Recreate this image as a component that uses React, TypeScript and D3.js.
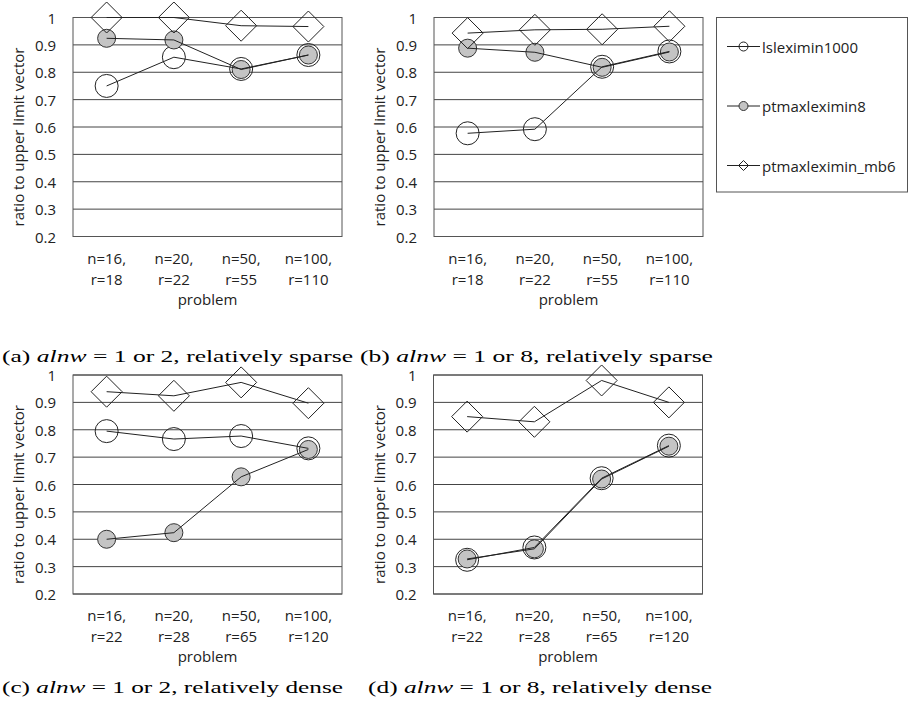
import React from "react";
import * as d3 from "d3";

const seriesNames = ["lsleximin1000", "ptmaxleximin8", "ptmaxleximin_mb6"];
const catsSparse = [["n=16,", "r=18"], ["n=20,", "r=22"], ["n=50,", "r=55"], ["n=100,", "r=110"]];
const catsDense = [["n=16,", "r=22"], ["n=20,", "r=28"], ["n=50,", "r=65"], ["n=100,", "r=120"]];
const yTicks = [0.2, 0.3, 0.4, 0.5, 0.6, 0.7, 0.8, 0.9, 1];
const yTickLabels = ["0.2", "0.3", "0.4", "0.5", "0.6", "0.7", "0.8", "0.9", "1"];

const aLs = [0.75, 0.855, 0.812, 0.863];
const aPt8 = [0.924, 0.918, 0.81, 0.863];
const aMb6 = [1.0, 1.0, 0.97, 0.967];
const bLs = [0.577, 0.592, 0.82, 0.876];
const bPt8 = [0.888, 0.873, 0.818, 0.874];
const bMb6 = [0.943, 0.955, 0.957, 0.968];
const cLs = [0.795, 0.766, 0.777, 0.732];
const cPt8 = [0.4, 0.424, 0.628, 0.728];
const cMb6 = [0.939, 0.924, 0.973, 0.897];
const dLs = [0.325, 0.37, 0.623, 0.742];
const dPt8 = [0.328, 0.365, 0.62, 0.74];
const dMb6 = [0.848, 0.829, 0.98, 0.9];

const captionA = ["(a) ", "alnw", " = 1 or 2, relatively sparse"];
const captionB = ["(b) ", "alnw", " = 1 or 8, relatively sparse"];
const captionC = ["(c) ", "alnw", " = 1 or 2, relatively dense"];
const captionD = ["(d) ", "alnw", " = 1 or 8, relatively dense"];

const FONT = "'Open Sans', sans-serif";
const GRAY = "#c4c4c4";

function Panel({ left, top, cats, ls, pt8, mb6 }: any) {
  const w = 269;
  const h = 219;
  const x = d3.scaleBand<number>().domain([0, 1, 2, 3]).range([left, left + w]);
  const y = d3.scaleLinear().domain([0.2, 1]).range([top + h, top]);
  const cx = (i: number) => (x(i) as number) + x.bandwidth() / 2;
  const line = d3.line<number>().x((_, i) => cx(i)).y((v) => y(v));
  const diamond = (r: number) => `M0,${-r}L${r},0L0,${r}L${-r},0Z`;
  return (
    <g>
      {yTicks.map((t) => (
        <line key={t} x1={left} x2={left + w} y1={y(t)} y2={y(t)} stroke="#444" strokeWidth={1} />
      ))}
      <rect x={left} y={top} width={w} height={h} fill="none" stroke="#555" strokeWidth={1} />
      {yTicks.map((t, i) => (
        <text key={t} x={left - 17} y={y(t)} textAnchor="end" dominantBaseline="central" fontFamily={FONT} fontSize={15} fill="#222">
          {yTickLabels[i]}
        </text>
      ))}
      <text transform={`translate(${left - 55},${top + h / 2 + 10}) rotate(-90)`} textAnchor="middle" dominantBaseline="central" fontFamily={FONT} fontSize={15} fill="#222">
        ratio to upper limit vector
      </text>
      {cats.map((c: string[], i: number) => (
        <g key={i}>
          <text x={cx(i)} y={top + h + 21} textAnchor="middle" dominantBaseline="central" fontFamily={FONT} fontSize={15} fill="#222">{c[0]}</text>
          <text x={cx(i)} y={top + h + 42} textAnchor="middle" dominantBaseline="central" fontFamily={FONT} fontSize={15} fill="#222">{c[1]}</text>
        </g>
      ))}
      <text x={left + w / 2} y={top + h + 62} textAnchor="middle" dominantBaseline="central" fontFamily={FONT} fontSize={15} fill="#222">problem</text>
      {ls.map((v: number, i: number) => (
        <circle key={"l" + i} cx={cx(i)} cy={y(v)} r={11.5} fill="none" stroke="#222" strokeWidth={1} />
      ))}
      {pt8.map((v: number, i: number) => (
        <circle key={"p" + i} cx={cx(i)} cy={y(v)} r={9} fill={GRAY} stroke="#333" strokeWidth={1} />
      ))}
      {mb6.map((v: number, i: number) => (
        <path key={"m" + i} transform={`translate(${cx(i)},${y(v)})`} d={diamond(15.5)} fill="none" stroke="#222" strokeWidth={1} />
      ))}
      <path d={line(ls) as string} fill="none" stroke="#222" strokeWidth={1} />
      <path d={line(pt8) as string} fill="none" stroke="#222" strokeWidth={1} />
      <path d={line(mb6) as string} fill="none" stroke="#222" strokeWidth={1} />
    </g>
  );
}

function Caption({ x, y, len, parts }: any) {
  return (
    <text x={x} y={y} fontFamily="'Liberation Serif', 'Times New Roman', serif" fontSize={17} fill="#000" textLength={len} lengthAdjust="spacingAndGlyphs">
      <tspan>{parts[0]}</tspan>
      <tspan fontStyle="italic">{parts[1]}</tspan>
      <tspan>{parts[2]}</tspan>
    </text>
  );
}

function Legend() {
  const lx = 716.5;
  const rows = [46.5, 106, 165.5];
  const diamond = (r: number) => `M0,${-r}L${r},0L0,${r}L${-r},0Z`;
  return (
    <g>
      <rect x={lx} y={17.5} width={191} height={174.5} fill="#fff" stroke="#555" strokeWidth={1} />
      {seriesNames.map((n, i) => (
        <g key={n}>
          <line x1={727} x2={760} y1={rows[i]} y2={rows[i]} stroke="#222" strokeWidth={1} />
          {i === 0 && <circle cx={743.5} cy={rows[i]} r={4.5} fill="none" stroke="#222" />}
          {i === 1 && <circle cx={743.5} cy={rows[i]} r={4.5} fill={GRAY} stroke="#333" />}
          {i === 2 && <path transform={`translate(743.5,${rows[i]})`} d={diamond(5)} fill="none" stroke="#222" />}
          <text x={762} y={rows[i]} dominantBaseline="central" fontFamily={FONT} fontSize={15} fill="#222">{n}</text>
        </g>
      ))}
    </g>
  );
}

export default function App() {
  return (
    <svg width={911} height={708} style={{ position: "absolute", left: 0, top: 0, background: "#fff" }}>
      <Panel left={73} top={17.5} cats={catsSparse} ls={aLs} pt8={aPt8} mb6={aMb6} />
      <Panel left={434} top={17.5} cats={catsSparse} ls={bLs} pt8={bPt8} mb6={bMb6} />
      <Panel left={73} top={375} cats={catsDense} ls={cLs} pt8={cPt8} mb6={cMb6} />
      <Panel left={433.5} top={375} cats={catsDense} ls={dLs} pt8={dPt8} mb6={dMb6} />
      <Legend />
      <Caption x={2} y={362} len={351} parts={captionA} />
      <Caption x={360} y={362} len={353} parts={captionB} />
      <Caption x={2} y={693} len={341} parts={captionC} />
      <Caption x={368} y={693} len={344} parts={captionD} />
    </svg>
  );
}
